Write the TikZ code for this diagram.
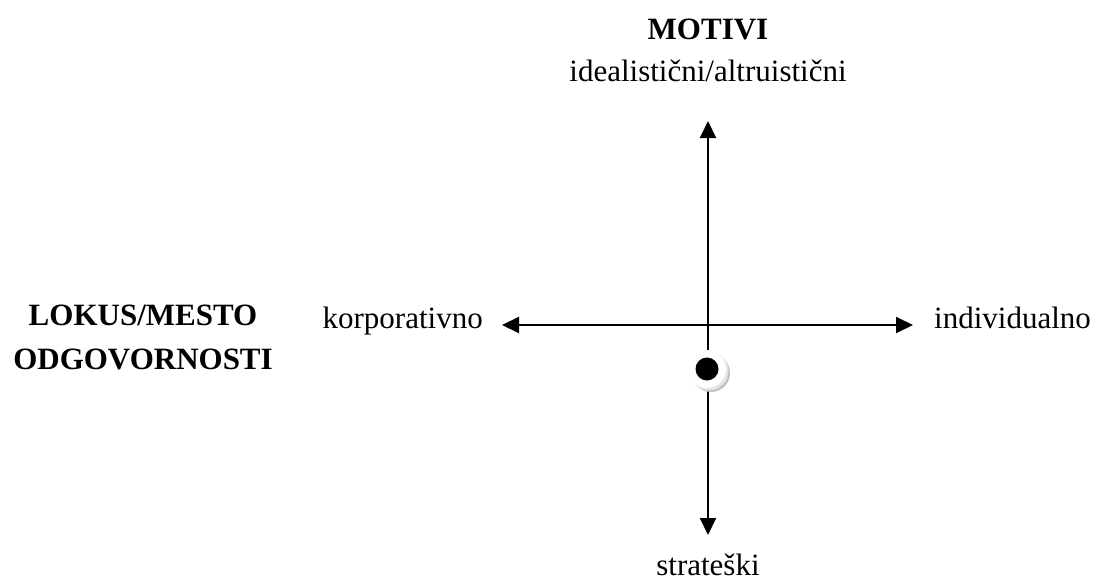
\documentclass[tikz,border=0pt]{standalone}
\usepackage{fontspec}
\setmainfont{Liberation Serif}
\usetikzlibrary{arrows.meta}
\begin{document}
\begin{tikzpicture}[x=1pt,y=-1pt,
  lbl/.style={inner sep=0pt,anchor=base,font=\fontsize{31}{44}\selectfont},
  blbl/.style={lbl,font=\fontsize{31}{44}\selectfont\bfseries,align=center},
  axtip/.tip={Triangle[length=17pt,width=16pt]},
  axis/.style={line width=2pt,axtip-axtip}]
\useasboundingbox (0,0) rectangle (1098,581);
\node[blbl] (motivi) at (708,39) {MOTIVI};
\node[lbl] (ideal) at (708,81) {idealistični/altruistični};
\node[lbl] (strat) at (708,575) {strateški};
\node[lbl,anchor=base east] (korp) at (483,328) {korporativno};
\node[lbl,anchor=base west] (indiv) at (934,328) {individualno};
\node[blbl,anchor=north] (lokus) at (143,305) {LOKUS/MESTO\\ODGOVORNOSTI};
\coordinate (top) at (708,121);
\coordinate (bot) at (708,535);
\coordinate (left) at (502,325);
\coordinate (right) at (913,325);
\draw[axis] (top) -- (bot);
\draw[axis] (left) -- (right);
\fill[gray!50] (711,373) circle (19);
\fill[gray!20] (709,371) circle (19.5);
\fill[white] (707,369) circle (19);
\node[circle,fill=black,inner sep=0pt,minimum size=23pt] (dot) at (707,369) {};
\end{tikzpicture}
\end{document}
